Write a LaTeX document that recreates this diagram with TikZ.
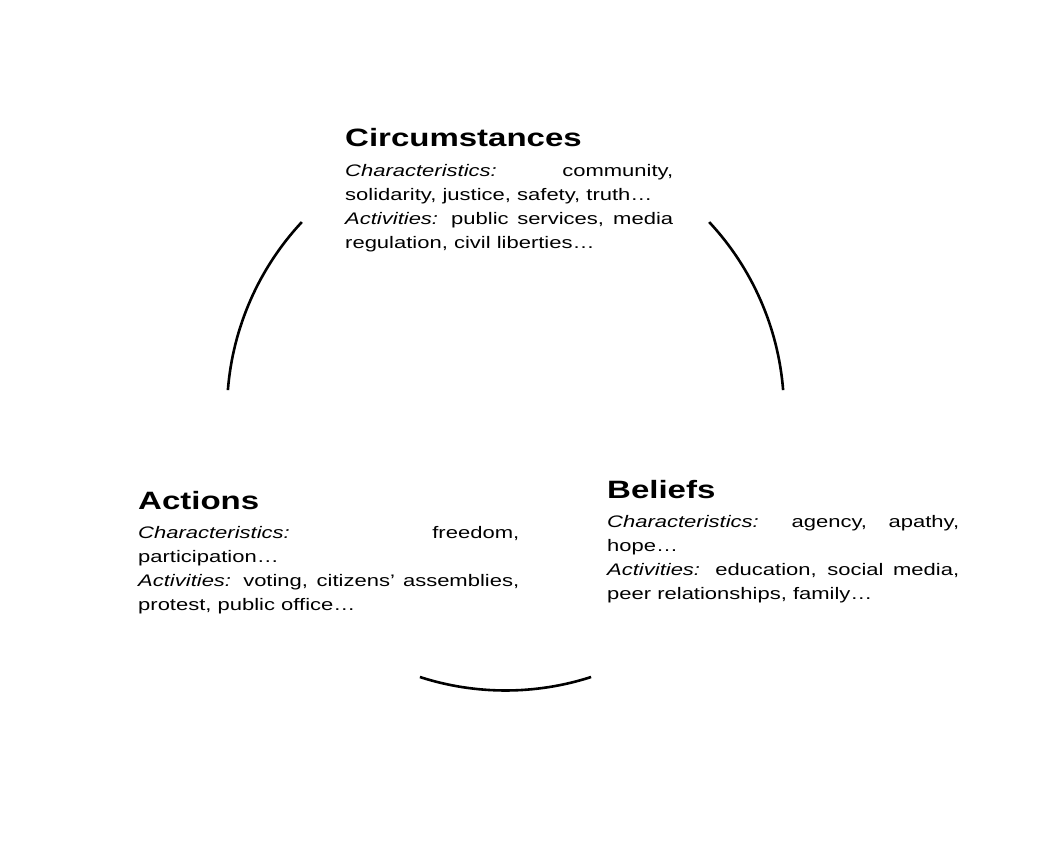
\documentclass[tikz,border=0pt]{standalone}
\usepackage{fontspec}
\setmainfont{Liberation Sans}

% one text block of the cycle: width, heading, characteristics, activities
\newcommand{\cyclepanel}[4]{%
  \scalebox{1}[0.76]{\parbox[t]{#1}{%
    \hyphenpenalty=10000 \tolerance=10000
    {\fontsize{33}{40}\selectfont\bfseries #2\par}
    \vspace{7pt}
    \fontsize{22}{31.6}\selectfont
    \textit{Characteristics:} #3\par
    \textit{Activities:} #4\par}}}

\begin{document}
\begin{tikzpicture}[x=1pt,y=-1pt,
 panel/.style={anchor=base west,inner sep=0pt},
 link/.style={line width=2.6pt}]
\useasboundingbox (0,0) rectangle (1042,850);
\coordinate (hub) at (505.5,412);
\node[panel] (circ) at (345,147) {\cyclepanel{328pt}{Circumstances}{community, solidarity, justice, safety, truth…}{public services, media regulation, civil liberties…}};
\node[panel] (act) at (138,509) {\cyclepanel{381pt}{Actions}{freedom, participation…}{voting, citizens’ assemblies, protest, public office…}};
\node[panel] (bel) at (607,498) {\cyclepanel{352pt}{Beliefs}{agency, apathy, hope…}{education, social media, peer relationships, family…}};
% arcs of the cycle
\draw[link] ([shift={(184.5:278.5)}]hub) arc[start angle=184.5,end angle=223,radius=278.5];
\draw[link] ([shift={(317:278.5)}]hub) arc[start angle=317,end angle=355.5,radius=278.5];
\draw[link] ([shift={(72.1:278.5)}]hub) arc[start angle=72.1,end angle=107.9,radius=278.5];
\end{tikzpicture}
\end{document}
